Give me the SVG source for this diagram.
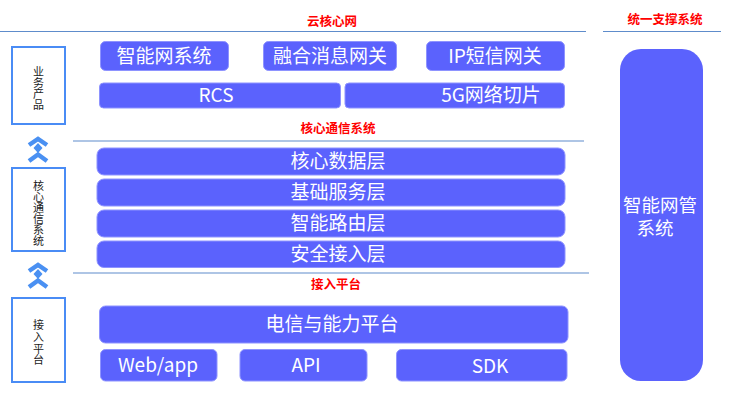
<svg xmlns="http://www.w3.org/2000/svg" width="731" height="400" viewBox="0 0 731 400">
<defs>
<style>
.b{fill:#5B62FD;stroke:#8E93FF;stroke-width:1}
.t{fill:#ffffff;font-family:"Noto Sans CJK SC","Liberation Sans",sans-serif;font-size:19px;text-anchor:middle}
.h{fill:#FF0000;font-family:"Noto Sans CJK SC","Liberation Sans",sans-serif;font-size:12.5px;font-weight:bold;text-anchor:middle}
.l{fill:#ffffff;stroke:#4A8CF5;stroke-width:2}
.lt{fill:#222222;font-family:"Noto Sans CJK SC","Liberation Sans",sans-serif;font-size:11px;text-anchor:middle;writing-mode:vertical-rl;text-orientation:upright}
.ln{stroke:#5E8CCB;stroke-width:1.2;fill:none}
.ic{stroke:#4A90F2;stroke-width:4.5;fill:none;stroke-linejoin:miter}
.icd{fill:#4A90F2}
</style>
<g id="icon">
<polyline class="ic" points="29,145 38,139 47,145"/>
<polygon class="icd" points="38,143 42.5,148 38,153 33.5,148"/>
<polyline class="ic" points="29,161 38,154.5 47,161"/>
</g>
</defs>
<rect width="731" height="400" fill="#ffffff"/>

<g id="headers">
<text class="h" x="332" y="26">云核心网</text>
<text class="h" x="665" y="24">统一支撑系统</text>
<text class="h" x="338" y="133">核心通信系统</text>
<text class="h" x="336" y="289">接入平台</text>
</g>

<g id="connectors">
<line class="ln" x1="0" y1="31.5" x2="586" y2="31.5"/>
<line class="ln" x1="603" y1="31.5" x2="721" y2="31.5"/>
<line class="ln" x1="73" y1="141" x2="584" y2="141"/>
<line class="ln" x1="73" y1="273" x2="589" y2="273"/>
<use href="#icon"/>
<use href="#icon" y="126"/>
</g>

<g id="left-yewu">
<rect class="l" x="12" y="47" width="53" height="77"/>
<text class="lt" x="38.5" y="88.5">业务产品</text>
</g>
<g id="left-hexin">
<rect class="l" x="12" y="168" width="53" height="83"/>
<text class="lt" x="38.5" y="213.5">核心通信系统</text>
</g>
<g id="left-jieru">
<rect class="l" x="12" y="298" width="53" height="84"/>
<text class="lt" x="38.5" y="343" letter-spacing="0.7">接入平台</text>
</g>

<g id="n-zhineng"><rect class="b" x="100.5" y="41.5" width="128" height="29" rx="5"/><text class="t" x="164" y="62.5">智能网系统</text></g>
<g id="n-ronghe"><rect class="b" x="263.5" y="41.5" width="133" height="29" rx="5"/><text class="t" x="330" y="62.5">融合消息网关</text></g>
<g id="n-ip"><rect class="b" x="426.5" y="41.5" width="138" height="29" rx="5"/><text class="t" x="495" y="62.5">IP短信网关</text></g>
<g id="n-rcs"><rect class="b" x="99.5" y="83" width="241" height="25" rx="4"/><text class="t" x="216" y="102">RCS</text></g>
<g id="n-5g"><rect class="b" x="345" y="83" width="219.5" height="25" rx="4"/><text class="t" x="491" y="102">5G网络切片</text></g>

<g id="n-data"><rect class="b" x="97" y="148" width="468" height="27" rx="7"/><text class="t" x="338" y="168">核心数据层</text></g>
<g id="n-base"><rect class="b" x="97" y="179" width="468" height="27" rx="7"/><text class="t" x="338" y="199">基础服务层</text></g>
<g id="n-route"><rect class="b" x="97" y="210" width="468" height="27" rx="7"/><text class="t" x="338" y="230">智能路由层</text></g>
<g id="n-sec"><rect class="b" x="97" y="241" width="468" height="26.5" rx="7"/><text class="t" x="338" y="261">安全接入层</text></g>

<g id="n-dianxin"><rect class="b" x="99.5" y="306" width="468.5" height="37" rx="6"/><text class="t" x="332" y="331">电信与能力平台</text></g>
<g id="n-web"><rect class="b" x="100.5" y="349.5" width="116.5" height="31.5" rx="5"/><text class="t" x="158" y="372">Web/app</text></g>
<g id="n-api"><rect class="b" x="240" y="349.5" width="127" height="31.5" rx="5"/><text class="t" x="306" y="372">API</text></g>
<g id="n-sdk"><rect class="b" x="396.5" y="349.5" width="170.5" height="31.5" rx="5"/><text class="t" x="490" y="373">SDK</text></g>

<g id="n-wangguan"><rect x="620" y="49" width="83" height="332" rx="21" fill="#5B62FD"/><text class="t" style="font-size:18.5px"><tspan x="660" y="212">智能网管</tspan><tspan x="655" y="235">系统</tspan></text></g>
</svg>
